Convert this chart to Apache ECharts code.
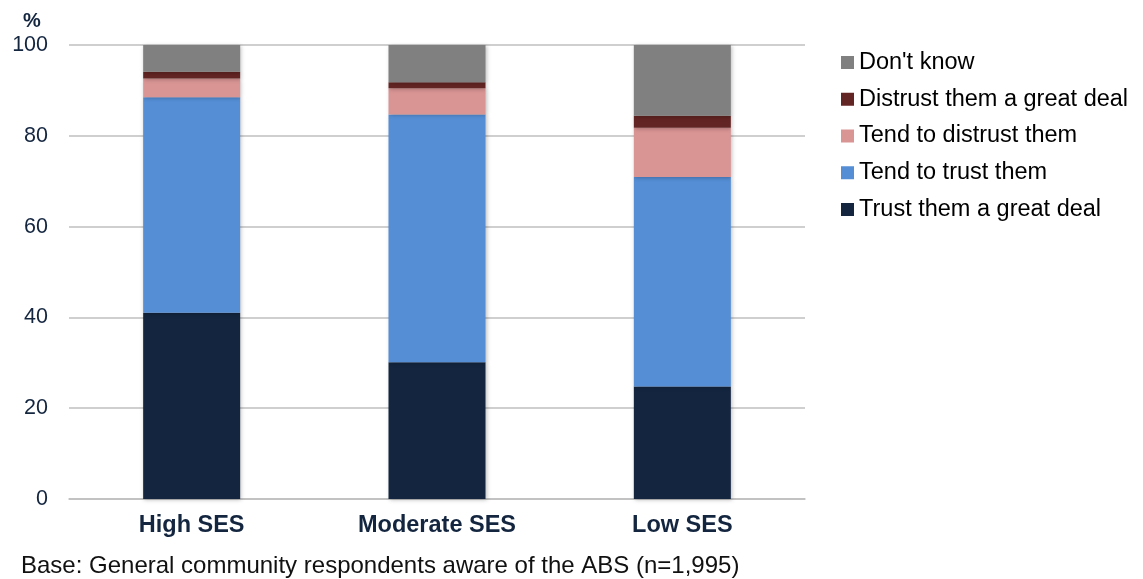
<!DOCTYPE html>
<html>
<head>
<meta charset="utf-8">
<script src="https://cdn.jsdelivr.net/npm/echarts@6/dist/echarts.min.js"></script>
<style>
  html, body { margin: 0; padding: 0; background: #fff; }
  #chart { width: 1143px; height: 579px; }
</style>
</head>
<body>
<div id="chart"></div>
<script>
// Trust in the ABS by socio-economic status (%)
const categories = ['High SES', 'Moderate SES', 'Low SES'];
const trustGreatDeal = [41.0, 30.1, 24.8];
const tendToTrust = [47.5, 54.6, 46.1];
const tendToDistrust = [4.1, 5.8, 10.9];
const distrustGreatDeal = [1.5, 1.3, 2.6];
const dontKnow = [5.9, 8.2, 15.6];
const yTicks = [0, 20, 40, 60, 80, 100];

const seriesDefs = [
  { name: 'Trust them a great deal', data: trustGreatDeal, color: '#13253F' },
  { name: 'Tend to trust them', data: tendToTrust, color: '#558ED5' },
  { name: 'Tend to distrust them', data: tendToDistrust, color: '#D99594' },
  { name: 'Distrust them a great deal', data: distrustGreatDeal, color: '#632523' },
  { name: "Don't know", data: dontKnow, color: '#808080' }
];

const font = 'Liberation Sans, Arial, sans-serif';
const chart = echarts.init(document.getElementById('chart'), null, { renderer: 'canvas' });

chart.setOption({
  animation: false,
  textStyle: { fontFamily: font },
  grid: { left: 69, right: 338, top: 45, bottom: 80, containLabel: false },
  legend: {
    orient: 'vertical',
    left: 841,
    top: 50.5,
    padding: 0,
    itemWidth: 13,
    itemHeight: 13,
    itemGap: 12.75,
    icon: 'rect',
    data: ["Don't know", 'Distrust them a great deal', 'Tend to distrust them', 'Tend to trust them', 'Trust them a great deal'],
    textStyle: { fontFamily: font, fontSize: 23.5, lineHeight: 24, color: '#000', padding: [0, 0, 0, 0] }
  },
  xAxis: {
    type: 'category',
    data: categories,
    axisLine: { show: true, lineStyle: { color: '#BFBFBF', width: 1.5 } },
    axisTick: { show: false },
    axisLabel: { fontFamily: font, fontSize: 23.5, fontWeight: 'bold', color: '#13253F', margin: 15 }
  },
  yAxis: {
    type: 'value',
    min: 0,
    max: 100,
    interval: 20,
    name: '%',
    nameLocation: 'end',
    nameGap: 14,
    nameTextStyle: { fontFamily: font, fontSize: 20, fontWeight: 'bold', color: '#13253F', align: 'center', padding: [0, 0, 0, -74] },
    axisLine: { show: false },
    axisTick: { show: false },
    axisLabel: {
      fontFamily: font, fontSize: 21.5, color: '#13253F', margin: 21,
      formatter: v => (yTicks.includes(v) ? String(v) : '')
    },
    splitLine: { lineStyle: { color: '#BFBFBF', width: 1.5 } }
  },
  series: seriesDefs.map(s => ({
    name: s.name,
    type: 'bar',
    stack: 'total',
    data: s.data,
    barWidth: 97,
    itemStyle: {
      color: s.color,
      shadowBlur: 4,
      shadowColor: 'rgba(0,0,0,0.25)',
      shadowOffsetX: 1,
      shadowOffsetY: 1
    }
  })),
  graphic: [{
    type: 'text',
    left: 21,
    top: 554,
    style: {
      text: 'Base: General community respondents aware of the ABS (n=1,995)',
      fontFamily: font,
      fontSize: 24,
      fill: '#111111'
    }
  }]
});
</script>
</body>
</html>
